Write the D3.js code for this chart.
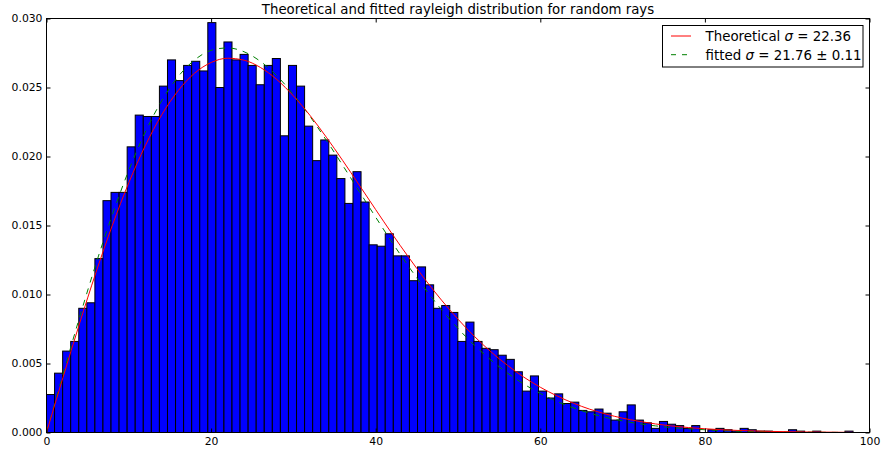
<!DOCTYPE html>
<html>
<head>
<meta charset="utf-8">
<title>Rayleigh histogram</title>
<style>
    body { margin: 0; background: #fff; }
    svg text { font-family: "DejaVu Sans", sans-serif; fill: #000; }
</style>
<script src="https://d3js.org/d3.v7.min.js"></script>
</head>
<body>
<svg id="chart" width="881" height="451"></svg>
<script>
// histogram: 100 bins of width 0.98 starting at 0, normalised densities
var binStart = 0;
var binWidth = 0.98;
var binDensity = [
    0.00275, 0.0043, 0.0059, 0.0066, 0.0090, 0.0094, 0.0126, 0.0168, 0.0174, 0.0174,
    0.0207, 0.0230, 0.0229, 0.0229, 0.0251, 0.0270, 0.0255, 0.0266, 0.0269, 0.0262,
    0.0297, 0.0250, 0.0283, 0.0270, 0.0274, 0.0266, 0.0252, 0.0266, 0.0271, 0.0215,
    0.0266, 0.0251, 0.0222, 0.0197, 0.0212, 0.0201, 0.0184, 0.0166, 0.0189, 0.0167,
    0.0136, 0.0135, 0.0144, 0.0128, 0.0128, 0.0110, 0.0120, 0.0107, 0.0090, 0.0092,
    0.0087, 0.0066, 0.0080, 0.0066, 0.0061, 0.0060, 0.0056, 0.0053, 0.0044, 0.0030,
    0.0041, 0.0030, 0.0025, 0.0028, 0.0021, 0.0022, 0.0016, 0.0015, 0.0017, 0.0014,
    0.0009, 0.0015, 0.0020, 0.0009, 0.0007, 0.0003, 0.0008, 0.0006, 0.0005, 0.0003,
    0.0005, 0.0000, 0.0002, 0.0003, 0.0002, 0.0001, 0.0003, 0.0002, 0.0001, 0.0001,
    0.0000, 0.0000, 0.0002, 0.0001, 0.0000, 0.0001, 0.0000, 0.0000, 0.0000, 0.0001
];

// curves read along x
var curveX = [0, 2, 4, 6, 8, 10, 12, 14, 16, 18, 20, 22, 24, 26, 28, 30, 32, 34, 36, 38,
    40, 42, 44, 46, 48, 50, 52, 54, 56, 58, 60, 62, 64, 66, 68, 70, 72, 74, 76, 78,
    80, 84, 88, 92, 96, 98];
var theoretical = [0, 0.00398, 0.00787, 0.01158, 0.01501, 0.01810, 0.02078, 0.02302, 0.02477, 0.02604,
    0.02681, 0.02712, 0.02698, 0.02645, 0.02557, 0.02439, 0.02299, 0.02140, 0.01970, 0.01793,
    0.01615, 0.01439, 0.01270, 0.01109, 0.00959, 0.00821, 0.00696, 0.00585, 0.00487, 0.00401,
    0.00328, 0.00266, 0.00213, 0.00169, 0.00133, 0.00104, 0.00081, 0.00062, 0.00047, 0.00036,
    0.00027, 0.00015, 0.00008, 0.00004, 0.00002, 0.00001];
var fitted = [0, 0.00421, 0.00831, 0.01220, 0.01579, 0.01900, 0.02177, 0.02404, 0.02579, 0.02700,
    0.02769, 0.02787, 0.02759, 0.02689, 0.02584, 0.02449, 0.02292, 0.02118, 0.01935, 0.01747,
    0.01560, 0.01377, 0.01203, 0.01040, 0.00890, 0.00754, 0.00632, 0.00525, 0.00431, 0.00351,
    0.00283, 0.00226, 0.00179, 0.00140, 0.00109, 0.00084, 0.00064, 0.00048, 0.00036, 0.00027,
    0.00020, 0.00010, 0.00005, 0.00003, 0.00001, 0.00001];

var xTicks = [0, 20, 40, 60, 80, 100];
var yTicks = [0, 0.005, 0.010, 0.015, 0.020, 0.025, 0.030];

var titleText = "Theoretical and fitted rayleigh distribution for random rays";
var legendItems = [
    {pre: "Theoretical ", sym: "\u03c3", post: " = 22.36", color: "#ff0000", dash: null},
    {pre: "fitted ", sym: "\u03c3", post: " = 21.76 \u00b1 0.11", color: "#008000", dash: "5,6"}
];

var margin = {left: 46.5, right: 11.5, top: 18.5, bottom: 18.5};
var width = 881, height = 451;

var svg = d3.select("#chart");

var x = d3.scaleLinear().domain([0, 100]).range([margin.left, width - margin.right]);
var y = d3.scaleLinear().domain([0, 0.030]).range([height - margin.bottom, margin.top]);

var bins = binDensity.map(function(d, i)
{
    return {x0: binStart + i * binWidth, x1: binStart + (i + 1) * binWidth, v: d};
});

svg.append("g")
    .selectAll("rect")
    .data(bins)
    .enter()
    .append("rect")
    .attr("x", function(d) { return x(d.x0); })
    .attr("y", function(d) { return y(d.v); })
    .attr("width", function(d) { return x(d.x1) - x(d.x0); })
    .attr("height", function(d) { return y(0) - y(d.v); })
    .attr("fill", "#0000ff")
    .attr("stroke", "#000")
    .attr("stroke-width", 1);

var line = d3.line()
    .x(function(d) { return x(d[0]); })
    .y(function(d) { return y(d[1]); })
    .curve(d3.curveMonotoneX);

svg.append("path")
    .datum(curveX.map(function(v, i) { return [v, fitted[i]]; }))
    .attr("d", line)
    .attr("fill", "none")
    .attr("stroke", "#008000")
    .attr("stroke-width", 1)
    .attr("stroke-dasharray", "6,6");

svg.append("path")
    .datum(curveX.map(function(v, i) { return [v, theoretical[i]]; }))
    .attr("d", line)
    .attr("fill", "none")
    .attr("stroke", "#ff0000")
    .attr("stroke-width", 1);

// frame
svg.append("rect")
    .attr("x", x(0))
    .attr("y", y(0.030))
    .attr("width", x(100) - x(0))
    .attr("height", y(0) - y(0.030))
    .attr("fill", "none")
    .attr("stroke", "#000")
    .attr("stroke-width", 1);

// axes with inward ticks on all sides
var fmt = d3.format(".3f");
var axisBottomG = svg.append("g")
    .attr("transform", "translate(0," + y(0) + ")")
    .call(d3.axisBottom(x).tickValues(xTicks).tickSizeInner(-4).tickSizeOuter(0).tickPadding(5));
var axisTopG = svg.append("g")
    .attr("transform", "translate(0," + y(0.030) + ")")
    .call(d3.axisTop(x).tickValues(xTicks).tickSizeInner(-4).tickSizeOuter(0).tickFormat(""));
var axisLeftG = svg.append("g")
    .attr("transform", "translate(" + x(0) + ",0)")
    .call(d3.axisLeft(y).tickValues(yTicks).tickFormat(fmt).tickSizeInner(-4).tickSizeOuter(0).tickPadding(4));
var axisRightG = svg.append("g")
    .attr("transform", "translate(" + x(100) + ",0)")
    .call(d3.axisRight(y).tickValues(yTicks).tickSizeInner(-4).tickSizeOuter(0).tickFormat(""));

[axisBottomG, axisTopG, axisLeftG, axisRightG].forEach(function(g)
{
    g.select(".domain").remove();
    g.selectAll("line").attr("stroke", "#000");
    g.selectAll("text")
        .attr("fill", "#000")
        .style("font-family", "DejaVu Sans")
        .style("font-size", "10.8px");
});

svg.append("text")
    .attr("x", (x(0) + x(100)) / 2)
    .attr("y", 14)
    .attr("text-anchor", "middle")
    .style("font-size", "13.3px")
    .text(titleText);

// legend
var legend = svg.append("g");
legend.append("rect")
    .attr("x", 662.5)
    .attr("y", 25.5)
    .attr("width", 200.5)
    .attr("height", 41.5)
    .attr("fill", "#fff")
    .attr("stroke", "#000")
    .attr("stroke-width", 1);

legendItems.forEach(function(d, i)
{
    var cy = 36 + i * 18.7;
    legend.append("line")
        .attr("x1", 671).attr("x2", 691)
        .attr("y1", cy).attr("y2", cy)
        .attr("stroke", d.color)
        .attr("stroke-width", 1)
        .attr("stroke-dasharray", d.dash);
    var t = legend.append("text")
        .attr("x", 705.5)
        .attr("y", cy + 5)
        .style("font-size", "13.4px");
    t.append("tspan").text(d.pre);
    t.append("tspan").style("font-style", "italic").text(d.sym);
    t.append("tspan").text(d.post);
});
</script>
</body>
</html>
